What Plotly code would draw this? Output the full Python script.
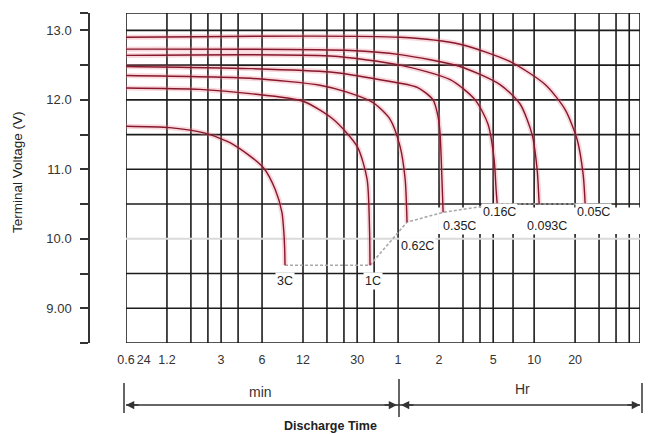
import math
import plotly.graph_objects as go

# ---------------- data ----------------
# discharge time in minutes, terminal voltage in volts
curve_names = ["3C", "1C", "0.62C", "0.35C", "0.16C", "0.093C", "0.05C"]
t_3c = [0.6, 1.26, 2.29, 3.67, 6.1, 7.5, 8.4, 8.7, 8.8, 8.85]
v_3c = [11.62, 11.60, 11.52, 11.36, 11.03, 10.71, 10.38, 10.06, 9.85, 9.62]
t_1c = [0.6, 2.1, 4.9, 12.0, 20.0, 30.0, 35.5, 37.0, 37.3]
v_1c = [12.17, 12.15, 12.09, 11.98, 11.72, 11.33, 10.86, 10.14, 9.62]
t_062 = [0.6, 4.9, 16, 25.3, 39.3, 52.4, 62, 67.6, 69.8]
v_062 = [12.35, 12.31, 12.21, 12.11, 11.96, 11.72, 11.33, 10.86, 10.24]
t_035 = [0.6, 4.9, 19, 44.2, 83, 108.5, 118, 122, 126, 128.6]
v_035 = [12.48, 12.45, 12.40, 12.29, 12.18, 12.0, 11.76, 11.53, 10.86, 10.38]
t_016 = [0.6, 19, 62, 145, 221, 275, 305, 315, 321]
v_016 = [12.64, 12.63, 12.50, 12.29, 12.0, 11.65, 11.14, 10.71, 10.50]
t_0093 = [0.6, 27, 62, 171, 337, 473, 580, 631, 653]
v_0093 = [12.73, 12.71, 12.65, 12.48, 12.22, 11.94, 11.50, 11.0, 10.50]
t_005 = [0.6, 62, 171, 400, 723, 1014, 1242, 1375, 1423]
v_005 = [12.90, 12.90, 12.80, 12.55, 12.22, 11.86, 11.43, 10.93, 10.50]

# end-of-discharge (cut-off) line
cut_t = [8.85, 37.3, 69.8, 128.6, 321, 653, 1423]
cut_v = [9.62, 9.62, 10.24, 10.38, 10.50, 10.50, 10.50]

# label positions (minutes, volts)
label_t = [8.85, 39.3, 84, 171, 332, 748, 1630]
label_v = [9.39, 9.39, 9.89, 10.19, 10.38, 10.19, 10.38]

# axes
x_min, x_max = 0.6, 3600
y_min, y_max = 8.5, 13.25
x_tick_vals = [0.6, 0.81, 1.2, 3, 6, 12, 30, 60, 120, 300, 600, 1200]
x_tick_text = ["0.6", "24", "1.2", "3", "6", "12", "30", "1", "2", "5", "10", "20"]
y_tick_vals = [8.5, 9.0, 9.5, 10.0, 10.5, 11.0, 11.5, 12.0, 12.5, 13.0, 13.25]
y_tick_text = ["", "9.00", "", "10.0", "", "11.0", "", "12.0", "", "13.0", ""]
v_grid = [0.6, 1.2, 1.8, 2.4, 3, 4, 6, 12, 18, 24, 30, 40, 60, 120, 180, 240,
          300, 420, 600, 1200, 1800, 2400, 3000, 3600]
h_grid = [8.5, 9.0, 9.5, 10.5, 11.0, 11.5, 12.0, 12.5, 13.0, 13.25]
ref_line_v = 10.0
band_t = [118, 3600]
band_v = [10.07, 10.45]

curves = [(t_3c, v_3c), (t_1c, v_1c), (t_062, v_062), (t_035, v_035),
          (t_016, v_016), (t_0093, v_0093), (t_005, v_005)]

# ---------------- figure ----------------
fig = go.Figure()
GRID = "#1c1c1c"

# vertical grid
gx, gy = [], []
for t in v_grid:
    gx += [t, t, None]
    gy += [y_min, y_max, None]
fig.add_trace(go.Scatter(x=gx, y=gy, mode="lines", line=dict(color=GRID, width=1.6),
                         hoverinfo="skip", showlegend=False))
# horizontal grid
hx, hy = [], []
for v in h_grid:
    hx += [x_min, x_max, None]
    hy += [v, v, None]
fig.add_trace(go.Scatter(x=hx, y=hy, mode="lines", line=dict(color=GRID, width=1.6),
                         hoverinfo="skip", showlegend=False))
# white label band
fig.add_trace(go.Scatter(x=[band_t[0], band_t[1], band_t[1], band_t[0], band_t[0]],
                         y=[band_v[0], band_v[0], band_v[1], band_v[1], band_v[0]],
                         mode="lines", fill="toself", fillcolor="white",
                         line=dict(width=0, color="white"), hoverinfo="skip", showlegend=False))
# 10.0 V reference line
fig.add_trace(go.Scatter(x=[x_min, x_max], y=[ref_line_v, ref_line_v], mode="lines",
                         line=dict(color="#dadada", width=2), hoverinfo="skip", showlegend=False))
# cut-off line
fig.add_trace(go.Scatter(x=cut_t, y=cut_v, mode="lines",
                         line=dict(color="#a8a8a8", width=1.6, dash="3px,2px"),
                         hoverinfo="skip", showlegend=False))
# curves (halo + core)
for (t, v), name in zip(curves, curve_names):
    fig.add_trace(go.Scatter(x=t, y=v, mode="lines", line=dict(color="rgba(235,120,140,0.3)", width=5,
                             shape="spline", smoothing=0.7), hoverinfo="skip", showlegend=False))
    fig.add_trace(go.Scatter(x=t, y=v, mode="lines", name=name,
                             line=dict(color="#85182a", width=1.4, shape="spline", smoothing=0.7),
                             showlegend=False))

# labels
for name, t, v in zip(curve_names, label_t, label_v):
    fig.add_annotation(x=math.log10(t), y=v, xref="x", yref="y", text=name, showarrow=False,
                       xanchor="center", yanchor="middle",
                       font=dict(size=12.5, color="#222"), bgcolor="white", borderpad=1)

W, H = 648, 434
L, R, T, B = 89, 8, 13, 91
pw, ph = W - L - R, H - T - B


def px(xp):
    return (xp - L) / pw


def py(yp):
    return (H - B - yp) / ph


# bottom bracket
line_style = dict(color="#333", width=1.5)
for xp, y0, y1 in [(124, 383, 413), (399, 379, 417), (642, 383, 413)]:
    fig.add_shape(type="line", xref="paper", yref="paper", x0=px(xp), x1=px(xp),
                  y0=py(y0), y1=py(y1), line=line_style)
fig.add_shape(type="line", xref="paper", yref="paper", x0=px(126), x1=px(640),
              y0=py(405), y1=py(405), line=line_style)
for head, tail in [(126, 140), (397, 383), (401, 415), (640, 626)]:
    fig.add_annotation(xref="paper", yref="paper", x=px(head), y=py(405), ax=tail - head, ay=0,
                       text="", showarrow=True, arrowhead=2, arrowsize=1.1, arrowwidth=1.5,
                       arrowcolor="#333")
text_anchor = dict(showarrow=False, xanchor="center", yanchor="middle")
fig.add_annotation(xref="paper", yref="paper", x=px(260), y=py(392), text="min",
                   font=dict(size=14, color="#333"), **text_anchor)
fig.add_annotation(xref="paper", yref="paper", x=px(522), y=py(389), text="Hr",
                   font=dict(size=14, color="#333"), **text_anchor)
fig.add_annotation(xref="paper", yref="paper", x=px(330), y=py(426), text="<b>Discharge Time</b>",
                   font=dict(size=12.5, color="#222"), **text_anchor)
fig.add_annotation(xref="paper", yref="paper", x=px(17), y=py(172), text="Terminal Voltage (V)",
                   textangle=-90, font=dict(size=13.5, color="#222"), **text_anchor)

fig.update_layout(
    width=W, height=H, margin=dict(l=L, r=R, t=T, b=B),
    paper_bgcolor="white", plot_bgcolor="white",
    font=dict(family="Liberation Sans, Arial, sans-serif", color="#333"),
    xaxis=dict(type="log", range=[math.log10(x_min), math.log10(x_max)], domain=[px(126), 1],
               showgrid=False, zeroline=False, showline=False, ticks="",
               tickmode="array", tickvals=x_tick_vals, ticktext=x_tick_text,
               tickfont=dict(size=12.5, color="#333"), ticklabelstandoff=7),
    yaxis=dict(range=[y_min, y_max], anchor="free", position=0, showgrid=False, zeroline=False,
               showline=True, linecolor="#333", linewidth=1.5, ticks="outside", ticklen=8,
               tickwidth=1.5, tickcolor="#333", tickmode="array", tickvals=y_tick_vals,
               ticktext=y_tick_text, tickfont=dict(size=13, color="#333"), ticklabelstandoff=6),
)

fig.write_html("out.html")
